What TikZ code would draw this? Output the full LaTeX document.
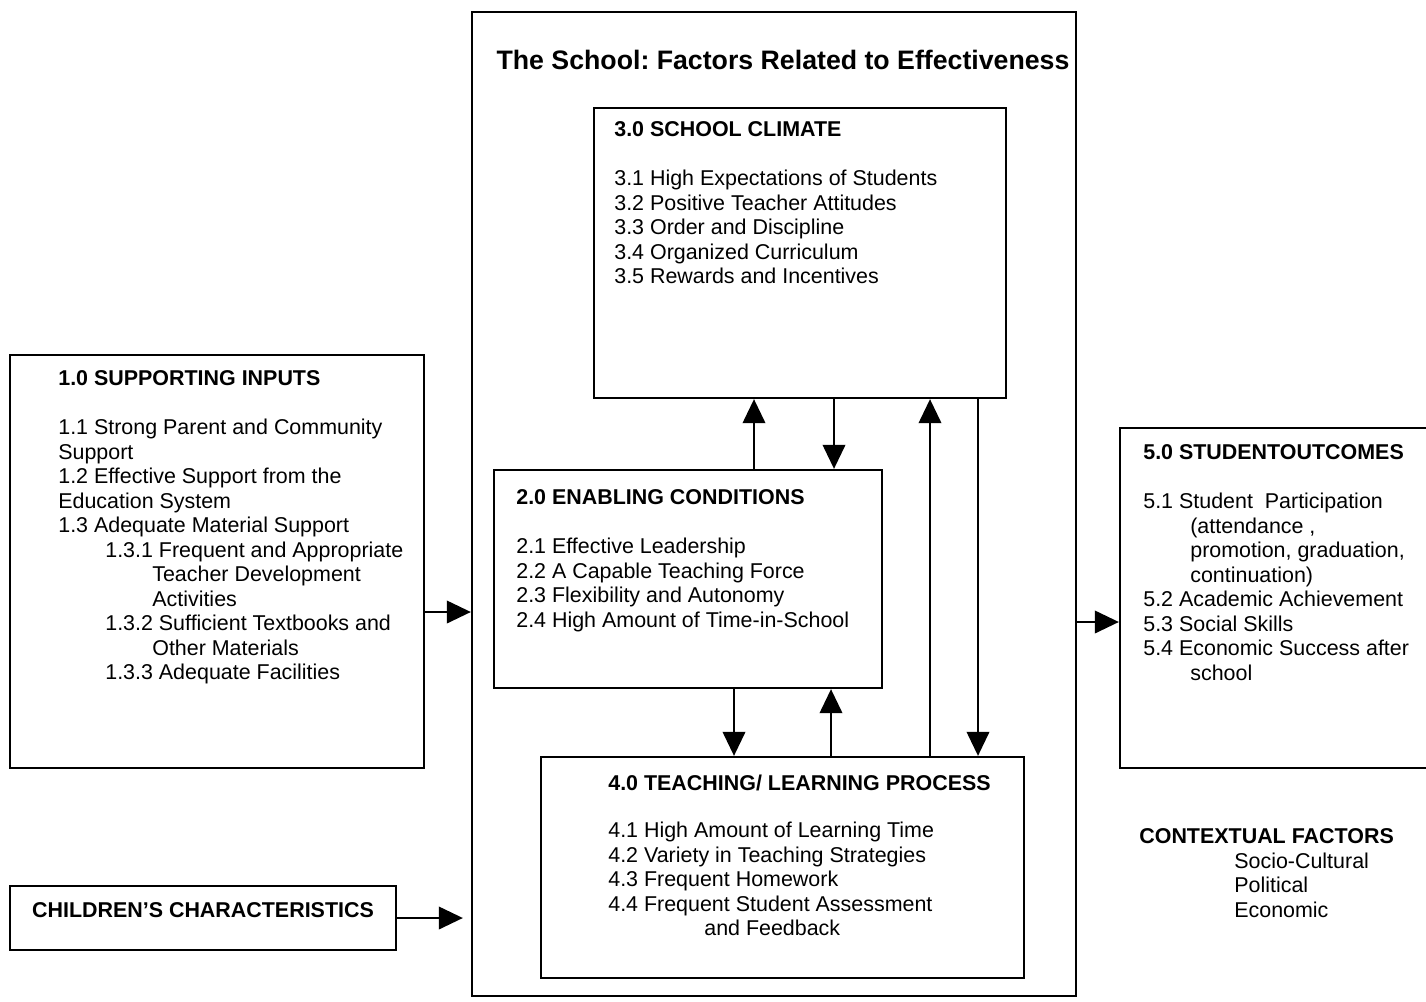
\documentclass[tikz,border=0pt]{standalone}
\usepackage{fontspec}
\setmainfont{Liberation Sans}
\frenchspacing
\usetikzlibrary{positioning,arrows.meta,calc,fit}
\tikzset{
  box/.style={draw,line width=1.3pt,inner sep=0pt},
  txt/.style={anchor=north west,inner sep=0pt,align=left,font=\fontsize{12.2}{13.95}\selectfont},
  arr/.style={line width=1.2pt,-{Triangle[length=0.48cm,width=0.45cm]}}
}
\newcommand{\ind}[1]{\hspace*{#1cm}}

\begin{document}
\begin{tikzpicture}[x=0.02cm,y=-0.02cm]
\useasboundingbox (0,0) rectangle (1426,1001);
\clip (0,0) rectangle (1426,1001);
% boxes
\node[box,fit={(472,12) (1076,996)}] (school) {};
\node[box,fit={(594,108) (1006,398)}] (clim) {};
\node[box,fit={(494,470) (882,688)}] (enab) {};
\node[box,fit={(541,757) (1024,978)}] (teach) {};
\node[box,fit={(10,355) (424,768)}] (sup) {};
\node[box,fit={(1120,428) (1440,768)}] (outc) {};
\node[box,fit={(10,886) (396,950)},font=\fontsize{12.2}{13.95}\selectfont\bfseries] (child) {CHILDREN'S CHARACTERISTICS};
% texts
\node[font=\fontsize{15.2}{18}\selectfont\bfseries,inner sep=0pt] (title) at (783,60)
  {The School: Factors Related to Effectiveness};
\node[txt] (suptxt) at (58,368) {\strut\textbf{1.0 SUPPORTING INPUTS}\\[13.95pt]
  1.1 Strong Parent and Community\\
  Support\\
  1.2 Effective Support from the\\
  Education System\\
  1.3 Adequate Material Support\\
  \ind{0.94}1.3.1 Frequent and Appropriate\\
  \ind{1.88}Teacher Development\\
  \ind{1.88}Activities\\
  \ind{0.94}1.3.2 Sufficient Textbooks and\\
  \ind{1.88}Other Materials\\
  \ind{0.94}1.3.3 Adequate Facilities};
\node[txt] (climtxt) at (614,119) {\strut\textbf{3.0 SCHOOL CLIMATE}\\[13.95pt]
  3.1 High Expectations of Students\\
  3.2 Positive Teacher Attitudes\\
  3.3 Order and Discipline\\
  3.4 Organized Curriculum\\
  3.5 Rewards and Incentives};
\node[txt] (enabtxt) at (516,487) {\strut\textbf{2.0 ENABLING CONDITIONS}\\[13.95pt]
  2.1 Effective Leadership\\
  2.2 A Capable Teaching Force\\
  2.3 Flexibility and Autonomy\\
  2.4 High Amount of Time-in-School};
\node[txt] (teachtxt) at (608,773) {\strut\textbf{4.0 TEACHING/ LEARNING PROCESS}\\[13pt]
  4.1 High Amount of Learning Time\\
  4.2 Variety in Teaching Strategies\\
  4.3 Frequent Homework\\
  4.4 Frequent Student Assessment\\
  \ind{1.92}and Feedback};
\node[txt] (outctxt) at (1143,442) {\strut\textbf{5.0 STUDENTOUTCOMES}\\[13.95pt]
  5.1 Student\ \ Participation\\
  \ind{0.94}(attendance ,\\
  \ind{0.94}promotion, graduation,\\
  \ind{0.94}continuation)\\
  5.2 Academic Achievement\\
  5.3 Social Skills\\
  5.4 Economic Success after\\
  \ind{0.94}school};
\node[txt] (ctx) at (1139,826) {\strut\textbf{CONTEXTUAL FACTORS}\\
  \ind{1.9}Socio-Cultural\\
  \ind{1.9}Political\\
  \ind{1.9}Economic};
% arrows
\coordinate (childend) at ([xshift=-0.16cm]school.west |- child.east);
\draw[arr] (sup.east |- 0,612) -- (school.west |- 0,612);
\draw[arr] (child.east) -- (childend);
\draw[arr] (school.east |- 0,622) -- (outc.west |- 0,622);
\draw[arr] (enab.north -| 754,0) -- (clim.south -| 754,0);
\draw[arr] (clim.south -| 834,0) -- (enab.north -| 834,0);
\draw[arr] (enab.south -| 734,0) -- (teach.north -| 734,0);
\draw[arr] (teach.north -| 831,0) -- (enab.south -| 831,0);
\draw[arr] (teach.north -| 930,0) -- (clim.south -| 930,0);
\draw[arr] (clim.south -| 978,0) -- (teach.north -| 978,0);
\end{tikzpicture}
\end{document}
